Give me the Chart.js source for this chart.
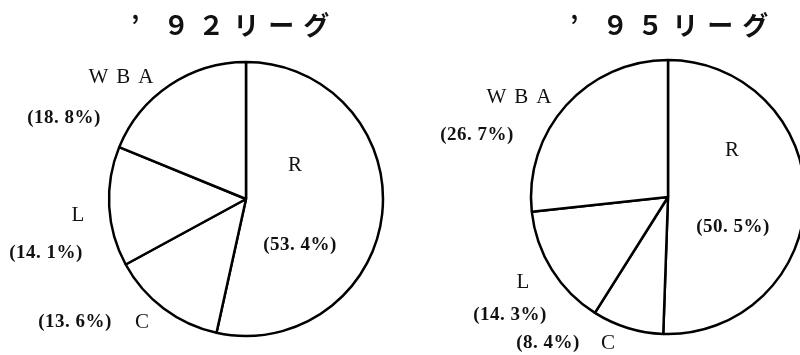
<!DOCTYPE html>
<html>
<head>
<meta charset="utf-8">
<script src="https://cdn.jsdelivr.net/npm/chart.js@4/dist/chart.umd.min.js"></script>
<style>
html, body { margin: 0; padding: 0; background: #fff; overflow: hidden; width: 800px; height: 355px; }
#pie92 { position: absolute; left: 0; top: 0; }
#pie95 { position: absolute; left: 400px; top: 0; }
</style>
</head>
<body>
<canvas id="pie92" width="400" height="355"></canvas>
<canvas id="pie95" width="420" height="355"></canvas>
<script>
// league share by category, clockwise from 12 o'clock
var categories = ["R", "C", "L", "WBA"];
var share92 = [53.4, 13.6, 14.1, 18.8];
var share95 = [50.5, 8.4, 14.3, 26.7];
var titles = ["’ ９２リーグ", "’ ９５リーグ"];

function pctText(v) {
    return "(" + v.toFixed(1).replace(".", ". ") + "%)";
}

// where the name and the percent of each category sit, relative to the pie centre
var layout92 = {
    title: [-115, -174],
    name: { R: [49, -34], C: [-104, 123], L: [-168, 16], WBA: [-125, -122] },
    pct:  { R: [54, 46], C: [-171, 123], L: [-200, 54], WBA: [-182, -81] }
};
var layout95 = {
    title: [-98, -172],
    name: { R: [64, -47], C: [-60, 146], L: [-145, 85], WBA: [-149, -100] },
    pct:  { R: [65, 30], C: [-120, 146], L: [-158, 118], WBA: [-191, -62] }
};

var labelPlugin = {
    id: "pieLabels",
    afterDraw: function (chart, args, opts) {
        var ctx = chart.ctx;
        var arc = chart.getDatasetMeta(0).data[0];
        var cx = arc.x, cy = arc.y;
        var lay = opts.layout;
        var values = chart.data.datasets[0].data;
        ctx.save();
        ctx.fillStyle = "#111";
        ctx.textBaseline = "middle";

        ctx.font = "bold 26px 'Noto Sans CJK JP'";
        ctx.letterSpacing = "9px";
        ctx.textAlign = "left";
        ctx.fillText(opts.title, cx + lay.title[0], cy + lay.title[1]);

        ctx.textAlign = "center";
        chart.data.labels.forEach(function (name, i) {
            var p = lay.name[name];
            ctx.font = "21px 'Liberation Serif'";
            ctx.letterSpacing = "8px";
            ctx.fillText(name, cx + p[0] + 4, cy + p[1]);
            var q = lay.pct[name];
            ctx.font = "bold 19px 'Liberation Serif'";
            ctx.letterSpacing = "0.5px";
            ctx.fillText(pctText(values[i]), cx + q[0], cy + q[1]);
        });
        ctx.restore();
    }
};

function makePie(id, values, title, layout, padLeft, padTop) {
    var ctx = document.getElementById(id).getContext("2d");
    return new Chart(ctx, {
        type: "pie",
        data: {
            labels: categories,
            datasets: [{
                data: values,
                backgroundColor: "#ffffff",
                borderColor: "#000000",
                borderWidth: 2.5,
                radius: 137
            }]
        },
        options: {
            responsive: false,
            animation: false,
            events: [],
            layout: { padding: { left: padLeft, top: padTop, right: 0, bottom: 0 } },
            plugins: {
                legend: { display: false },
                tooltip: { enabled: false },
                pieLabels: { title: title, layout: layout }
            }
        },
        plugins: [labelPlugin]
    });
}

makePie("pie92", share92, titles[0], layout92, 92, 43);
makePie("pie95", share95, titles[1], layout95, 116, 39);
</script>
</body>
</html>
